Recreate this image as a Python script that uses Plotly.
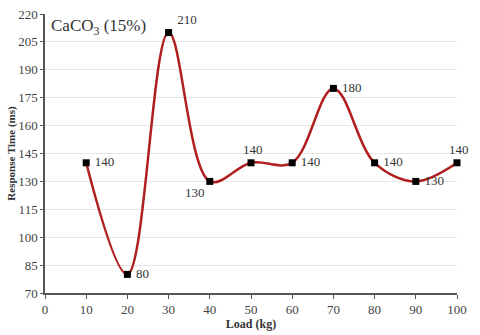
import plotly.graph_objects as go

# Data
load_kg = [10, 20, 30, 40, 50, 60, 70, 80, 90, 100]
response_ms = [140, 80, 210, 130, 140, 140, 180, 140, 130, 140]
label_pos = ["middle right", "middle right", "top right", "bottom left", "top center",
             "middle right", "middle right", "middle right", "middle right", "top center"]
y_ticks = [70, 85, 100, 115, 130, 145, 160, 175, 190, 205, 220]
x_ticks = [0, 10, 20, 30, 40, 50, 60, 70, 80, 90, 100]

SERIF = "Liberation Serif, Times New Roman, serif"

fig = go.Figure()
fig.add_trace(
    go.Scatter(
        x=load_kg,
        y=response_ms,
        mode="lines+markers+text",
        line=dict(color="#B01E1E", width=2.5, shape="spline", smoothing=1.0),
        marker=dict(symbol="square", size=7, color="black"),
        text=[f" {v}" for v in response_ms],
        textposition=label_pos,
        textfont=dict(family=SERIF, size=13, color="#333333"),
        cliponaxis=False,
        showlegend=False,
    )
)

fig.add_annotation(
    x=0.01, y=1.0, xref="paper", yref="paper",
    text="CaCO<sub>3</sub> (15%)",
    showarrow=False, xanchor="left", yanchor="top",
    font=dict(family=SERIF, size=17, color="#333333"),
)

fig.update_layout(
    width=480,
    height=335,
    plot_bgcolor="white",
    paper_bgcolor="white",
    margin=dict(l=45, r=23, t=7, b=41),
    xaxis=dict(
        range=[0, 100],
        tickvals=x_ticks,
        showgrid=False,
        zeroline=False,
        showline=True,
        linecolor="#555555",
        linewidth=1.5,
        ticks="outside",
        ticklen=4,
        tickcolor="#555555",
        tickfont=dict(family=SERIF, size=13, color="#444444"),
        title=dict(text="<b>Load (kg)</b>", font=dict(family=SERIF, size=12, color="#333333"), standoff=2),
    ),
    yaxis=dict(
        range=[70, 220],
        tickvals=y_ticks,
        ticklabeloverflow="allow",
        showgrid=True,
        gridcolor="#E6E6E6",
        zeroline=False,
        showline=True,
        linecolor="#555555",
        linewidth=1.5,
        ticks="outside",
        ticklen=3,
        tickcolor="#555555",
        tickfont=dict(family=SERIF, size=13, color="#444444"),
        title=dict(text="<b>Response Time (ms)</b>", font=dict(family=SERIF, size=11, color="#333333"), standoff=0),
    ),
)

# the page body has a default 8px margin; remove it so the figure sits at the window origin
fig.write_html(
    "out.html",
    config={"displayModeBar": False},
    post_script="document.body.style.margin='0';",
)
